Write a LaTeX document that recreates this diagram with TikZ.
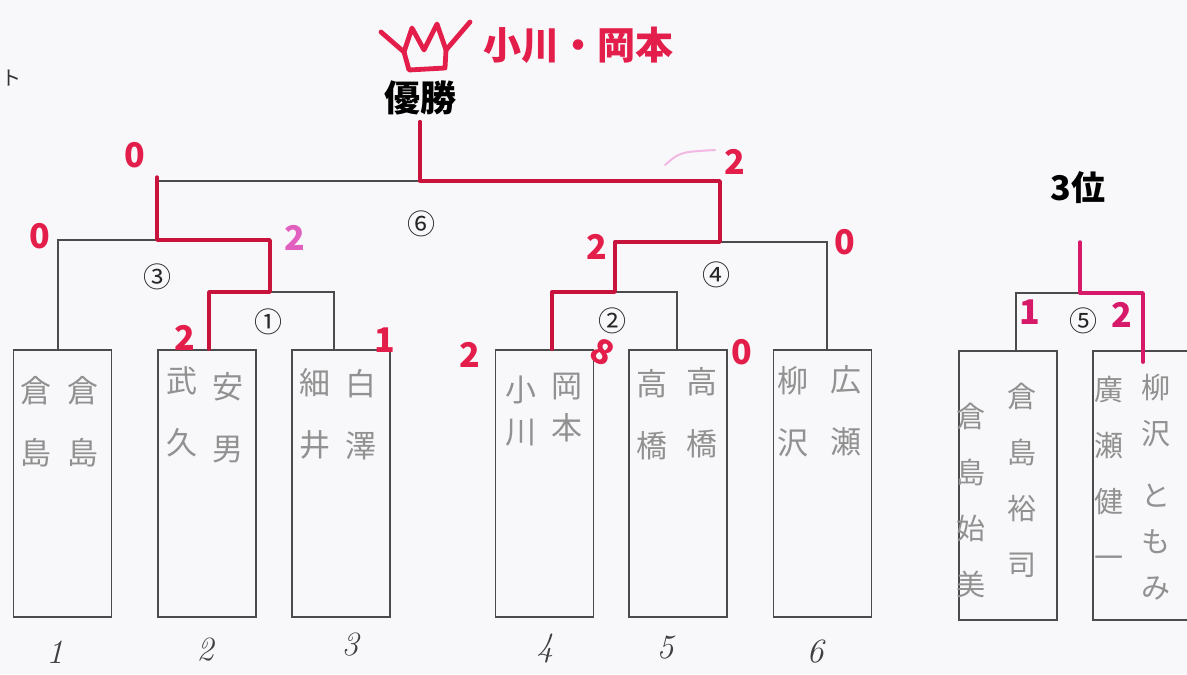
\documentclass[tikz,border=0pt]{standalone}
\usepackage[dvipsnames]{xcolor}
\usepackage{fontspec}
\usepackage{tikz}
\newfontfamily\jpfont{Noto Sans CJK JP}
\definecolor{paper}{RGB}{248,248,250}
\definecolor{linegray}{RGB}{75,75,75}
\definecolor{namegray}{RGB}{145,145,145}
\definecolor{winred}{RGB}{200,20,60}
\definecolor{scorered}{RGB}{228,30,75}
\definecolor{pinkscore}{RGB}{225,95,190}
\definecolor{thirdred}{RGB}{215,25,105}

\begin{document}
\begin{tikzpicture}[x=0.5pt, y=-0.5pt,
  box/.style={draw=linegray, line width=0.8pt, minimum width=49pt, minimum height=133.5pt, inner sep=0pt},
  bracket/.style={draw=linegray, line width=0.8pt},
  win/.style={draw=winred, line width=1.7pt, line join=round, line cap=round},
  namecol/.style={text=namegray, align=center, inner sep=0pt, font=\jpfont\fontsize{15.5}{31}\selectfont},
  namelong/.style={namecol, font=\jpfont\fontsize{14.5}{28}\selectfont},
  score/.style={text=scorered, inner sep=0pt, font=\jpfont\bfseries\fontsize{17}{17}\selectfont},
  matchno/.style={inner sep=0pt, text=black!85, font=\jpfont\fontsize{14}{14}\selectfont},
  seed/.style={inner sep=0pt, text=black!75, font=\itshape\fontsize{17}{17}\selectfont},
  crown/.style={draw=scorered, line width=2.4pt, line join=round, line cap=round}]
\useasboundingbox (0,0) rectangle (1187,674);
\fill[paper] (0,0) rectangle (1187,674);

\node[inner sep=0pt, text=black!80, font=\jpfont\fontsize{10}{10}\selectfont] (tto) at (12,78) {ト};
\draw[crown] (381,32) -- (404,52) -- (412,28) -- (424,50) -- (437,24) -- (446,50) -- (470,22);
\draw[crown] (404,52) -- (409,70) -- (445,68) -- (446,50);
\node[inner sep=0pt, text=scorered, font=\jpfont\bfseries\fontsize{19}{19}\selectfont] (champ) at (578,45) {小川・岡本};
\node[inner sep=0pt, font=\jpfont\bfseries\fontsize{18}{18}\selectfont] (yusho) at (420,98) {優勝};
\node[inner sep=0pt, font=\jpfont\bfseries\fontsize{17}{17}\selectfont] (third) at (1078,188) {3位};

\node[box] (b1) at (62.5,483.5) {};
\node[box] (b2) at (207,483.5) {};
\node[box] (b3) at (341,483.5) {};
\node[box] (b4) at (544.5,483.5) {};
\node[box] (b5) at (678,483.5) {};
\node[box] (b6) at (822.5,483.5) {};
\node[box, minimum height=134.5pt] (b7) at (1008,485.5) {};
\node[box, minimum height=134.5pt] (b8) at (1142,485.5) {};

\coordinate (m1a) at (209,292);
\coordinate (m1b) at (334,292);
\coordinate (m2a) at (552,292);
\coordinate (m2b) at (677,292);
\coordinate (m3a) at (58,240);
\coordinate (m3b) at (270,240);
\coordinate (m4a) at (615,242);
\coordinate (m4b) at (827,242);
\coordinate (m5a) at (1016,293);
\coordinate (m5b) at (1143,293);
\coordinate (m6a) at (157,181);
\coordinate (m6b) at (720,181);
\coordinate (top5) at (1080,242);

\draw[bracket] (b2.north -| m1a) -- (m1a) -- (m1b) -- (b3.north -| m1b);
\draw[bracket] (b4.north -| m2a) -- (m2a) -- (m2b) -- (b5.north -| m2b);
\draw[bracket] (b1.north -| m3a) -- (m3a) -- (m3b) -- (m3b |- m1a);
\draw[bracket] (m4a |- m2a) -- (m4a) -- (m4b) -- (b6.north -| m4b);
\draw[bracket] (b7.north -| m5a) -- (m5a) -- (m5b) -- (b8.north -| m5b);
\draw[bracket] (m6a |- m3a) -- (m6a) -- (m6b) -- (m6b |- m4a);

\draw[win] ([yshift=2pt]m6a) -- (m6a |- m3a) -- (m3b) -- (m3b |- m1a) -- (m1a) -- (b2.north -| m1a);
\draw[win] ([yshift=-3pt]yusho.south) -- (yusho.south |- m6a) -- (m6b) -- (m6b |- m4a) -- (m4a) -- (m4a |- m2a) -- (m2a) -- (b4.north -| m2a);
\draw[win, draw=thirdred] (top5) -- (top5 |- m5a) -- (m5b) -- ([yshift=-6pt]b8.north -| m5b);
\draw[line width=1pt, draw=pinkscore!45, line cap=round] (665,165) .. controls (680,152) .. (715,150);

\node[matchno] (n1) at (268,322) {①};
\node[matchno] (n2) at (612,321) {②};
\node[matchno] (n3) at (157,277) {③};
\node[matchno] (n4) at (716,275) {④};
\node[matchno] (n5) at (1083,321) {⑤};
\node[matchno] (n6) at (421,224) {⑥};

\node[score] (s60) at (135,155) {0};
\node[score] (s30) at (40,236) {0};
\node[score, text=pinkscore] (s31) at (295,238) {2};
\node[score] (s11) at (185,338) {2};
\node[score] (s12) at (385,340) {1};
\node[score] (s62) at (735,162) {2};
\node[score] (s41) at (597,247) {2};
\node[score] (s42) at (845,242) {0};
\node[score] (s21) at (470,355) {2};
\node[score, rotate=-30] (s22) at (603,352) {8};
\node[score] (s23) at (742,352) {0};
\node[score, text=thirdred] (s51) at (1030,312) {1};
\node[score, text=thirdred] (s52) at (1122,315) {2};

\node[namecol] (t1r) at (83,422) {倉\\島};
\node[namecol] (t1l) at (36,422) {倉\\島};
\node[namecol] (t2r) at (228,418) {安\\男};
\node[namecol] (t2l) at (182,412) {武\\久};
\node[namecol] (t3r) at (361,415) {白\\澤};
\node[namecol] (t3l) at (315,414) {細\\井};
\node[namecol] (t4r) at (567,408) {岡\\[-10pt]本};
\node[namecol] (t4l) at (521,411) {小\\[-10pt]川};
\node[namecol] (t5r) at (702,413) {高\\橋};
\node[namecol] (t5l) at (652,415) {高\\橋};
\node[namecol] (t6r) at (846,411) {広\\瀬};
\node[namecol] (t6l) at (793,412) {柳\\沢};
\node[namelong] (t7r) at (1022,480) {倉\\島\\裕\\司};
\node[namelong] (t7l) at (971,500) {倉\\島\\始\\美};
\node[namelong, font=\jpfont\fontsize{14.5}{23}\selectfont] (t8r) at (1156,487) {柳\\沢\\[8pt]と\\も\\み};
\node[namelong] (t8l) at (1109,472) {廣\\瀬\\健\\一};

\node[seed] (r1) at (55,652) {1};
\node[seed] (r2) at (205,650) {2};
\node[seed] (r3) at (350,645) {3};
\node[seed] (r4) at (545,648) {4};
\node[seed] (r5) at (665,648) {5};
\node[seed] (r6) at (815,652) {6};
\end{tikzpicture}
\end{document}
